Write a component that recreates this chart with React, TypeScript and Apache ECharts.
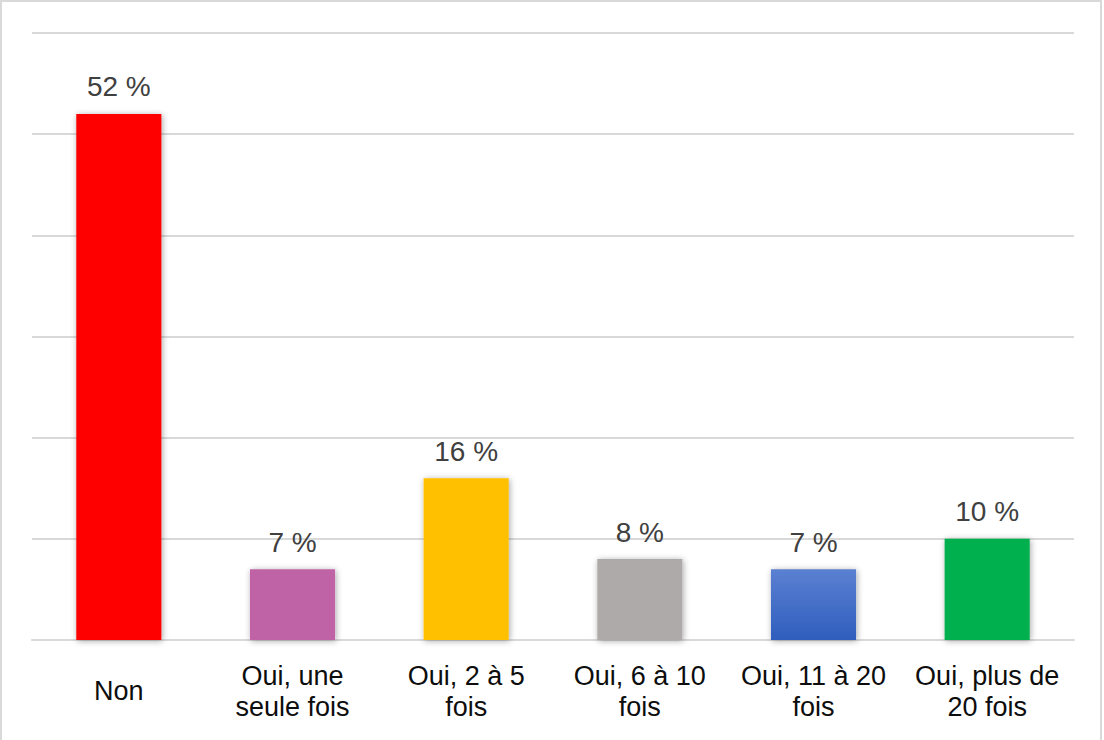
import React, { useEffect, useRef } from "react";
import * as echarts from "echarts";

const categories = [
  "Non",
  "Oui, une\nseule fois",
  "Oui, 2 à 5\nfois",
  "Oui, 6 à 10\nfois",
  "Oui, 11 à 20\nfois",
  "Oui, plus de\n20 fois",
];
const values = [52, 7, 16, 8, 7, 10];
const colors: any[] = [
  "#FF0000",
  "#BF62A6",
  "#FFC000",
  "#AEAAAA",
  { type: "linear", x: 0, y: 0, x2: 0, y2: 1, colorStops: [{ offset: 0, color: "#5B80D2" }, { offset: 1, color: "#2F5EBD" }] },
  "#00B050",
];

export default function App() {
  const ref = useRef<HTMLDivElement>(null);
  useEffect(() => {
    if (!ref.current) return;
    const chart = echarts.init(ref.current, null, { renderer: "svg" });
    chart.setOption({
      animation: false,
      backgroundColor: "#ffffff",
      textStyle: { fontFamily: "Liberation Sans, Arial, sans-serif" },
      grid: { left: 32, right: 30, top: 33, bottom: 100 },
      graphic: [
        {
          type: "rect",
          shape: { x: 1, y: 1, width: 1100, height: 742 },
          style: { fill: "none", stroke: "#d9d9d9", lineWidth: 2 },
          silent: true,
        },
      ],
      xAxis: {
        type: "category",
        data: categories,
        axisLine: { lineStyle: { color: "#d9d9d9", width: 2 } },
        axisTick: { show: false },
        axisLabel: {
          interval: 0,
          color: "#0d0d0d",
          fontSize: 27,
          lineHeight: 31,
          verticalAlign: "middle",
          margin: 51,
          fontFamily: "Liberation Sans, Arial, sans-serif",
        },
      },
      yAxis: {
        type: "value",
        min: 0,
        max: 60,
        interval: 10,
        axisLabel: { show: false },
        axisLine: { show: false },
        axisTick: { show: false },
        splitLine: { lineStyle: { color: "#d9d9d9", width: 2 } },
      },
      series: [
        {
          type: "bar",
          barWidth: "49%",
          data: values.map((v, i) => ({
            value: v,
            itemStyle: {
              color: colors[i],
              shadowBlur: 6,
              shadowColor: "rgba(0,0,0,0.35)",
              shadowOffsetX: 1,
              shadowOffsetY: 1,
            },
          })),
          label: {
            show: true,
            position: "top",
            distance: 13,
            formatter: "{c} %",
            color: "#404040",
            fontSize: 28,
            fontFamily: "Liberation Sans, Arial, sans-serif",
          },
        },
      ],
    });
    return () => chart.dispose();
  }, []);
  return (
    <div
      ref={ref}
      style={{ position: "absolute", left: 0, top: 0, width: 1104, height: 740 }}
    />
  );
}
